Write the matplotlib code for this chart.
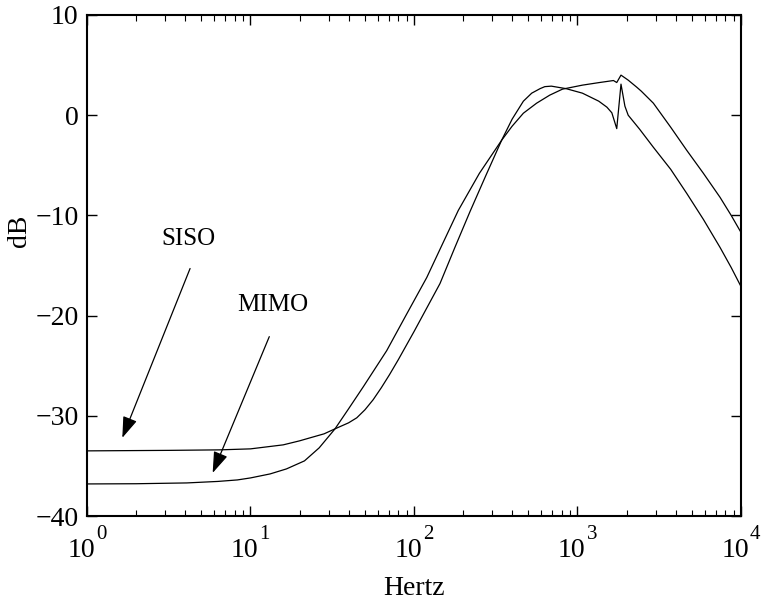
import matplotlib
matplotlib.use("Agg")
import matplotlib.pyplot as plt
import numpy as np
from matplotlib.transforms import blended_transform_factory, offset_copy
from matplotlib.ticker import LogLocator, NullFormatter

plt.rcParams['font.family'] = ['Liberation Serif', 'DejaVu Serif']

# SISO curve: log10(frequency) and magnitude in dB
siso_logf = [0.0, 0.5, 0.81, 1.0, 1.1, 1.2, 1.3, 1.364, 1.45, 1.517, 1.6, 1.65,
             1.7, 1.75, 1.8, 1.85, 1.904, 2.0, 2.159, 2.25, 2.343, 2.44, 2.536,
             2.6, 2.669, 2.72, 2.771, 2.8, 2.84, 2.93, 3.03, 3.13, 3.18, 3.21,
             3.24, 3.266, 3.29, 3.31, 3.38, 3.464, 3.57, 3.668, 3.77, 3.872,
             3.94, 4.0]
siso_db = [-33.5, -33.45, -33.4, -33.3, -33.1, -32.9, -32.5, -32.2, -31.8, -31.3, -30.7, -30.2,
           -29.4, -28.4, -27.2, -25.9, -24.4, -21.6, -16.8, -13.2, -9.6, -6.0, -2.5,
           -0.4, 1.4, 2.2, 2.65, 2.85, 2.9, 2.65, 2.2, 1.4, 0.8, 0.24,
           -1.34, 3.1, 0.9, 0.0, -1.4, -3.2, -5.4, -7.8, -10.4, -13.2,
           -15.2, -17.1]

# MIMO curve
mimo_logf = [0.0, 0.3, 0.61, 0.8, 0.92, 1.0, 1.12, 1.22, 1.33, 1.42, 1.517, 1.6,
             1.69, 1.833, 1.95, 2.078, 2.17, 2.271, 2.4, 2.536, 2.6, 2.669, 2.75,
             2.83, 2.908, 3.03, 3.13, 3.22, 3.24, 3.266, 3.31, 3.362, 3.39, 3.464,
             3.57, 3.668, 3.77, 3.872, 3.94, 4.0]
mimo_db = [-36.8, -36.78, -36.7, -36.55, -36.4, -36.2, -35.8, -35.3, -34.5, -33.2, -31.3, -29.3,
           -27.1, -23.5, -20.0, -16.2, -13.0, -9.5, -5.8, -2.5, -1.1, 0.2, 1.2,
           2.0, 2.6, 3.0, 3.25, 3.46, 3.26, 4.0, 3.5, 2.8, 2.4, 1.2,
           -1.2, -3.5, -5.8, -8.2, -10.0, -11.7]

yticks = [-40, -30, -20, -10, 0, 10]
xtick_exps = [0, 1, 2, 3, 4]

# annotations: label, text position (Hz, dB), arrow start, arrow tip
ann_labels = ["SISO", "MIMO"]
ann_text_pos = [(4.18, -12.4), (13.6, -18.95)]
ann_start = [(4.27, -15.3), (13.03, -22.1)]
ann_tip = [(1.644, -32.2), (5.87, -35.7)]

fig = plt.figure(figsize=(7.63, 6.01), dpi=100)
ax = fig.add_axes([87/763, 85/601, 654/763, 501/601])

siso_f = 10 ** np.array(siso_logf)
mimo_f = 10 ** np.array(mimo_logf)
ax.plot(siso_f, siso_db, color='black', lw=0.9)
ax.plot(mimo_f, mimo_db, color='black', lw=0.9)

ax.set_xscale('log')
ax.set_xlim(1, 1e4)
ax.set_ylim(-40, 10)
ax.set_yticks(yticks)
ax.set_yticklabels([str(t).replace('-', '\u2212') for t in yticks])
ax.set_xticks([10 ** e for e in xtick_exps])
ax.set_xticklabels([])
ax.xaxis.set_minor_locator(LogLocator(base=10, subs=np.arange(2, 10), numticks=50))
ax.xaxis.set_minor_formatter(NullFormatter())

ax.tick_params(which='both', direction='in', top=True, right=True, labelsize=20)
ax.tick_params(which='major', length=7, width=1.0, pad=6)
ax.tick_params(which='minor', length=4, width=0.8)
for s in ax.spines.values():
    s.set_linewidth(1.5)

trans = blended_transform_factory(ax.transData, ax.transAxes)
t10 = offset_copy(trans, fig=fig, x=8, y=0, units='dots')
texp = offset_copy(trans, fig=fig, x=9, y=0, units='dots')
for e in xtick_exps:
    ax.text(10 ** e, -0.044, "10", transform=t10, ha='right', va='top',
            fontsize=20)
    ax.text(10 ** e, -0.018, str(e), transform=texp, ha='left', va='top',
            fontsize=15)

ax.set_xlabel("Hertz", fontsize=20)
ax.xaxis.set_label_coords(0.5, -0.119)
ax.set_ylabel("dB", fontsize=20)
ax.yaxis.set_label_coords(-0.084, 0.57)

for lab, tp, st, tip in zip(ann_labels, ann_text_pos, ann_start, ann_tip):
    ax.text(tp[0], tp[1], lab, ha='center', va='center', fontsize=18)
    ax.annotate("", xy=tip, xytext=st,
                arrowprops=dict(arrowstyle='-|>,head_length=1.3,head_width=0.45',
                                color='black', lw=0.9, shrinkA=0, shrinkB=0))

fig.savefig("out.png", dpi=100)
